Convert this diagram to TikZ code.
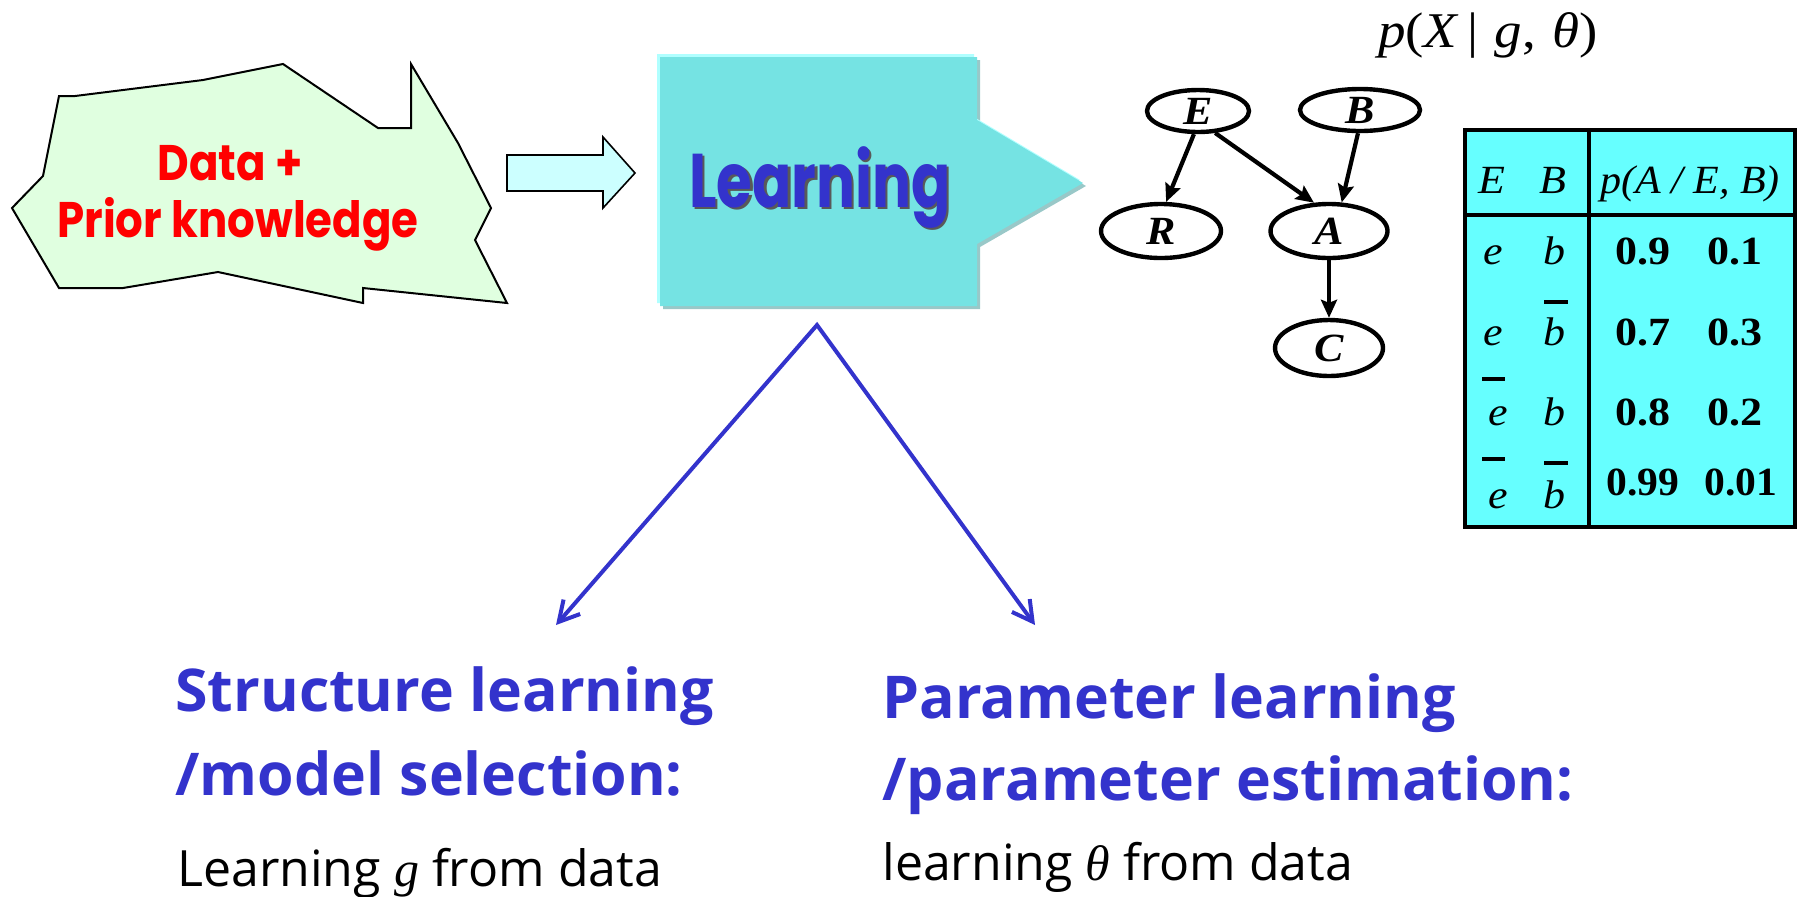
\documentclass[tikz,border=0pt]{standalone}
\usepackage{fontspec}
\usepackage{graphicx}
\usetikzlibrary{shapes.geometric,arrows.meta}
\newfontfamily\comicfont{Poppins}
\newfontfamily\headfont{Open Sans}
\newfontfamily\seriffont{Liberation Serif}
\definecolor{mintfill}{HTML}{E0FFE0}
\definecolor{paleblock}{HTML}{CCFFFF}
\definecolor{learnfill}{HTML}{75E3E3}
\definecolor{learnlight}{HTML}{B0FFFF}
\definecolor{learnshade}{HTML}{99C8C8}
\definecolor{cptfill}{HTML}{66FFFF}
\definecolor{inkblue}{HTML}{3333CC}
\newcommand{\wide}[1]{\scalebox{1.1}[1]{#1}}
\begin{document}
\begin{tikzpicture}[x=0.5pt,y=-0.5pt,
  bnode/.style={ellipse, draw, line width=2.2pt, inner sep=0pt,
    font=\seriffont\bfseries\itshape\fontsize{20}{22}\selectfont},
  barrow/.style={line width=2.1pt, -{Stealth[length=9pt,width=8pt,inset=1.5pt]}},
  cellit/.style={anchor=base, inner sep=0pt, font=\seriffont\itshape\fontsize{20}{22}\selectfont},
  cellnum/.style={anchor=base, inner sep=0pt, font=\seriffont\bfseries\fontsize{20}{22}\selectfont},
  overbar/.style={line width=2pt},
  headtxt/.style={anchor=base west, inner sep=0pt, text=inkblue,
    font=\headfont\bfseries\fontsize{29.5}{32}\selectfont},
  bodytxt/.style={anchor=base west, inner sep=0pt, font=\headfont\fontsize{25}{28}\selectfont},
  comictxt/.style={anchor=base, inner sep=0pt, text=red,
    font=\comicfont\bfseries\fontsize{25}{28}\selectfont},
  learntxt/.style={anchor=base, inner sep=0pt, font=\comicfont\bfseries\fontsize{38}{42}\selectfont},
]
\path[use as bounding box] (0,0) rectangle (1802,896);

% irregular input shape
\draw[fill=mintfill, line width=1pt, line join=miter]
  (59,96) -- (75,96) -- (203,80) -- (283,64) -- (378,128) -- (411,128) -- (411,64)
  -- (458,143) -- (491,208) -- (475,240) -- (507,303) -- (363,288) -- (363,303)
  -- (218,272) -- (123,288) -- (59,288) -- (12,208) -- (43,176) -- cycle;
\node[comictxt] (data) at (230,180) {\scalebox{0.87}[1]{Data +}};
\node[comictxt] (prior) at (238,237) {\scalebox{0.87}[1]{Prior knowledge}};

% block arrow
\draw[fill=paleblock, line width=0.8pt, line join=miter]
  (507,155) -- (603,155) -- (603,137) -- (635,173) -- (603,208) -- (603,191) -- (507,191) -- cycle;

% learning pentagon with bevelled edges
\fill[learnshade] (663,60) -- (980,60) -- (980,123) -- (1086,186) -- (980,247) -- (980,309) -- (663,309) -- cycle;
\fill[learnlight] (657,54) -- (974,54) -- (974,117) -- (1080,180) -- (974,241) -- (974,303) -- (657,303) -- cycle;
\fill[learnfill] (660,57) -- (977,57) -- (977,120) -- (1083,183) -- (977,244) -- (977,306) -- (660,306) -- cycle;
\node[learntxt, text=black!65] (learnshadow) at (822.5,209.5) {\scalebox{0.76}[1]{Learning}};
\node[learntxt, text=inkblue] (learn) at (820,207) {\scalebox{0.76}[1]{Learning}};

% the two branches
\coordinate (split) at (817,325);
\coordinate (structtip) at (556,625);
\coordinate (paramtip) at (1035,625);
\draw[inkblue, line width=2pt, line join=miter,
  {Straight Barb[length=10pt,width=11pt]}-{Straight Barb[length=10pt,width=11pt]}]
  (structtip) -- (split) -- (paramtip);

% Bayesian network
\node[bnode, minimum width=51pt, minimum height=21pt] (E) at (1198,111) {\wide{E}};
\node[bnode, minimum width=60pt, minimum height=21pt] (B) at (1360,110) {\wide{B}};
\node[bnode, minimum width=60pt, minimum height=27pt] (R) at (1161,231) {\wide{R}};
\node[bnode, minimum width=58.5pt, minimum height=27pt] (A) at (1329,231) {\wide{A}};
\node[bnode, minimum width=54pt, minimum height=28pt] (C) at (1329,348) {\wide{C}};
\draw[barrow] (E.-100) -- (R.80);
\draw[barrow] (E.-52) -- (A.118);
\draw[barrow] (B.-95) -- (A.66);
\draw[barrow] (A.south) -- (C.north);

\node[anchor=base, inner sep=0pt, font=\seriffont\fontsize{25}{28}\selectfont] (lik) at (1488,47)
  {\scalebox{1.1}[1]{\textit{p}(\textit{X}\hspace{0.15em}|\hspace{0.3em}\textit{g},\hspace{0.3em}\textit{θ})}};

% conditional probability table
\draw[fill=cptfill, line width=1.8pt] (1465,130) rectangle (1795,527);
\draw[line width=2.4pt] (1589,130) -- (1589,527);
\draw[line width=2.4pt] (1465,215) -- (1795,215);
\node[cellit] (hE) at (1492,193) {\wide{E}};
\node[cellit] (hB) at (1553,193) {\wide{B}};
\node[cellit] (hP) at (1690,193) {\scalebox{1.05}[1]{p(A / E, B)}};
\node[cellit] (e1) at (1493,264) {\wide{e}};
\node[cellit] (b1) at (1554,264) {\wide{b}};
\node[cellit] (e2) at (1493,345) {\wide{e}};
\node[cellit] (b2) at (1554,345) {\wide{b}};
\node[cellit] (e3) at (1498,425) {\wide{e}};
\node[cellit] (b3) at (1554,425) {\wide{b}};
\node[cellit] (e4) at (1498,508) {\wide{e}};
\node[cellit] (b4) at (1554,508) {\wide{b}};
\draw[overbar] (1544,302) -- (1568,302);
\draw[overbar] (1482,379) -- (1505,379);
\draw[overbar] (1482,459) -- (1505,459);
\draw[overbar] (1544,463) -- (1568,463);
\node[cellnum] (p11) at (1643,264) {\wide{0.9}};
\node[cellnum] (p12) at (1735,264) {\wide{0.1}};
\node[cellnum] (p21) at (1643,345) {\wide{0.7}};
\node[cellnum] (p22) at (1735,345) {\wide{0.3}};
\node[cellnum] (p31) at (1643,425) {\wide{0.8}};
\node[cellnum] (p32) at (1735,425) {\wide{0.2}};
\node[cellnum] (p41) at (1643,495) {\scalebox{1.04}[1]{0.99}};
\node[cellnum] (p42) at (1741,495) {\scalebox{1.04}[1]{0.01}};

% captions
\node[headtxt] (struct1) at (175,711) {Structure learning};
\node[headtxt] (struct2) at (175,795) {/model selection:};
\node[bodytxt] (struct3) at (177,886) {Learning {\seriffont\itshape g} from data};
\node[headtxt] (param1) at (882,718) {Parameter learning};
\node[headtxt] (param2) at (882,800) {/parameter estimation:};
\node[bodytxt] (param3) at (882,880) {learning {\seriffont\itshape θ} from data};
\end{tikzpicture}
\end{document}
